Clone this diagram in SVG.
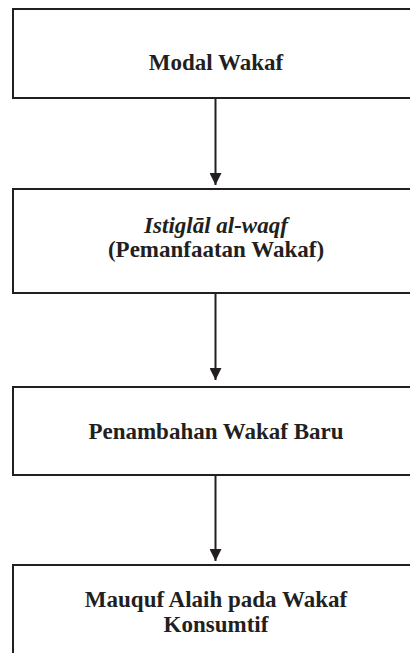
<svg xmlns="http://www.w3.org/2000/svg" width="410" height="653" viewBox="0 0 410 653">
<defs>
<style>
.box{fill:#fff;stroke:#231f20;stroke-width:2}
.lbl{font-family:"Liberation Serif","Times New Roman",serif;font-weight:bold;font-size:23px;fill:#231f20;text-anchor:middle}
.it{font-style:italic}
.conn{stroke:#231f20;stroke-width:2;fill:none;marker-end:url(#ah)}
</style>
<marker id="ah" markerWidth="12" markerHeight="12" refX="12" refY="6" orient="auto" markerUnits="userSpaceOnUse">
<path d="M0,0 L12,6 L0,12 Z" fill="#231f20"/>
</marker>
</defs>
<rect width="410" height="653" fill="#fff"/>
<g id="connectors">
<line class="conn" x1="215.5" y1="98" x2="215.5" y2="185"/>
<line class="conn" x1="215.5" y1="293" x2="215.5" y2="380"/>
<line class="conn" x1="215.5" y1="475" x2="215.5" y2="561"/>
</g>
<g id="modal-wakaf">
<rect class="box" x="13" y="9" width="406" height="89"/>
<text class="lbl" x="216" y="70">Modal Wakaf</text>
</g>
<g id="istighlal">
<rect class="box" x="13" y="189" width="406" height="104"/>
<text class="lbl it" x="216" y="233">Istiglāl al-waqf</text>
<text class="lbl" x="216" y="257">(Pemanfaatan Wakaf)</text>
</g>
<g id="penambahan">
<rect class="box" x="13" y="387" width="406" height="88"/>
<text class="lbl" x="216" y="439">Penambahan Wakaf Baru</text>
</g>
<g id="mauquf">
<rect class="box" x="13" y="565" width="406" height="100"/>
<text class="lbl" x="216" y="607">Mauquf Alaih pada Wakaf</text>
<text class="lbl" x="216" y="632">Konsumtif</text>
</g>
</svg>
